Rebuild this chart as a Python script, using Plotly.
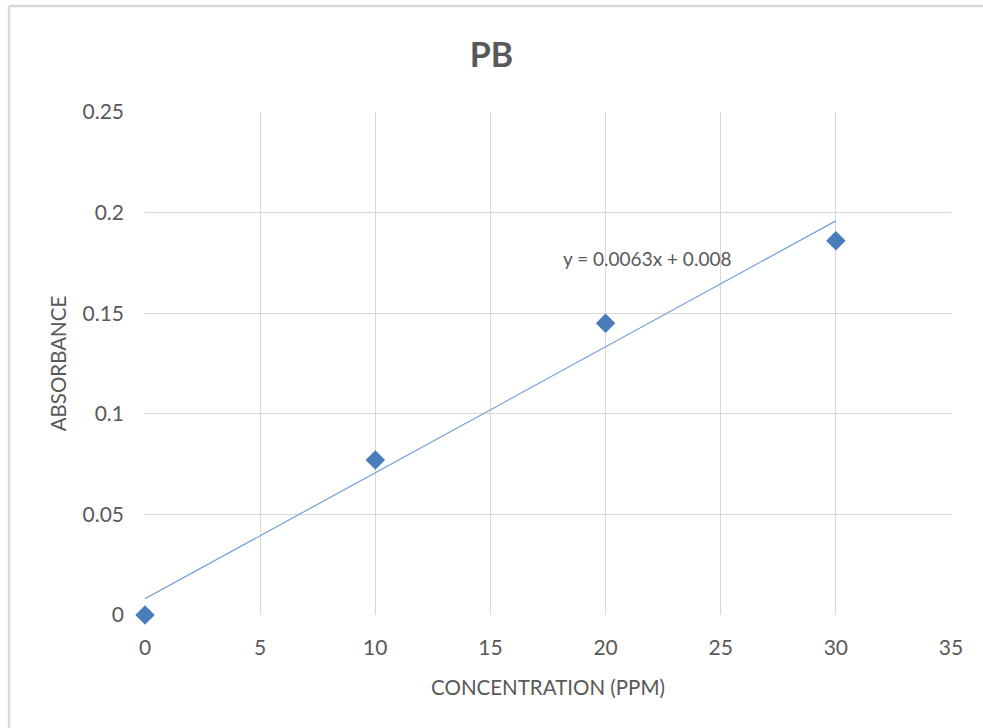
import numpy as np
import plotly.graph_objects as go

concentration = [0, 10, 20, 30]
absorbance = [0.0, 0.077, 0.145, 0.186]
x_ticks = [0, 5, 10, 15, 20, 25, 30, 35]
y_ticks = [0, 0.05, 0.1, 0.15, 0.2, 0.25]
y_tick_labels = ["0", "0.05", "0.1", "0.15", "0.2", "0.25"]

slope, intercept = np.polyfit(concentration, absorbance, 1)
fit_x = [min(concentration), max(concentration)]
fit_y = [slope * v + intercept for v in fit_x]

FONT = "Lato"
GRAY = "#595959"

fig = go.Figure()
fig.add_trace(go.Scatter(x=fit_x, y=fit_y, mode="lines",
                         line=dict(color="#6f9fd8", width=1.2),
                         hoverinfo="skip", showlegend=False))
fig.add_trace(go.Scatter(x=concentration, y=absorbance, mode="markers",
                         marker=dict(symbol="diamond", size=15, color="#4a7ebb"),
                         showlegend=False, cliponaxis=False))

fig.add_annotation(x=21.8, y=0.177, xref="x", yref="y",
                   text="y = 0.0063x + 0.008", showarrow=False,
                   font=dict(family=FONT, size=19, color=GRAY))

fig.update_layout(
    width=983, height=728,
    margin=dict(l=145, r=32, t=112, b=113),
    paper_bgcolor="white", plot_bgcolor="white",
    title=dict(text="<b>PB</b>", x=0.5, xanchor="center", y=1 - 55/728, yanchor="middle",
               font=dict(family=FONT, size=34, color=GRAY)),
    xaxis=dict(range=[0, 35], tickvals=x_ticks, showgrid=True, gridcolor="#d9d9d9",
               gridwidth=1, zeroline=False, showline=False, ticks="",
               tickfont=dict(family=FONT, size=21, color=GRAY), ticklabelstandoff=18,
               title=dict(text="CONCENTRATION (PPM)", standoff=22,
                          font=dict(family=FONT, size=20.5, color=GRAY))),
    yaxis=dict(range=[0, 0.25], tickvals=y_ticks, ticktext=y_tick_labels, showgrid=True,
               gridcolor="#d9d9d9", gridwidth=1, zeroline=False, showline=False, ticks="",
               tickfont=dict(family=FONT, size=21, color=GRAY), ticklabelstandoff=20,
               title=dict(text="ABSORBANCE", standoff=10,
                          font=dict(family=FONT, size=20.5, color=GRAY))),
)
# chart border (top and left edges visible in reference)
fig.add_shape(type="line", xref="paper", yref="paper",
              x0=(9 - 145) / 806, x1=(983 - 145) / 806,
              y0=1 + (112 - 6) / 503, y1=1 + (112 - 6) / 503,
              line=dict(color="#d9d9d9", width=2.5))
fig.add_shape(type="line", xref="paper", yref="paper",
              x0=(9 - 145) / 806, x1=(9 - 145) / 806,
              y0=1 + (112 - 6) / 503, y1=-(728 - 615) / 503,
              line=dict(color="#d9d9d9", width=2.5))

fig.write_html("out.html")
